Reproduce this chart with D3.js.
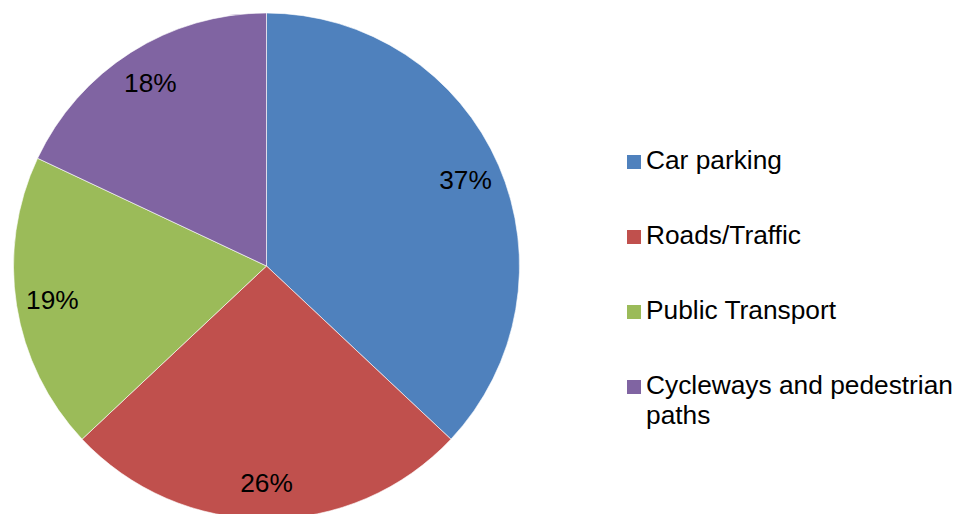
<!DOCTYPE html>
<html>
<head>
<meta charset="utf-8">
<script src="https://cdn.jsdelivr.net/npm/d3@7/dist/d3.min.js"></script>
<style>
  html, body { margin: 0; padding: 0; background: #fff; }
  text { font-family: "Liberation Sans", Arial, sans-serif; fill: #000; }
</style>
</head>
<body>
<svg></svg>
<script>
const categories = ["Car parking", "Roads/Traffic", "Public Transport", "Cycleways and pedestrian paths"]
const values = [37, 26, 19, 18]
const colors = ["#4F81BD", "#C0504D", "#9BBB59", "#8064A2"]

const width = 960
const height = 514
const cx = 266.5, cy = 266, radius = 253
const font_size = 26.3

let svg = d3.select("svg")
  .attr("width", width)
  .attr("height", height)

let data = categories.map((c, i) => ({ name: c, value: values[i], color: colors[i] }))

let pie = d3.pie().sort(null).value(d => d.value)
let arc = d3.arc().innerRadius(0).outerRadius(radius)
let label_arc = d3.arc().innerRadius(radius * 0.857).outerRadius(radius * 0.857)

let g = svg.append("g").attr("transform", `translate(${cx},${cy})`)
let arcs = pie(data)

g.selectAll("path")
  .data(arcs)
  .join("path")
  .attr("d", arc)
  .style("fill", d => d.data.color)
  .style("stroke", "rgba(255,255,255,0.6)")
  .style("stroke-width", 1)

g.selectAll("text")
  .data(arcs)
  .join("text")
  .attr("transform", d => `translate(${label_arc.centroid(d)})`)
  .attr("text-anchor", "middle")
  .attr("dy", "0.35em")
  .style("font-size", font_size + "px")
  .text(d => d3.format(".0%")(d.data.value / d3.sum(values)))

// legend
let legend = svg.append("g").attr("transform", "translate(627,169)")
let row = d3.scaleLinear([0, 1], [0, 75])

let items = legend.selectAll("g")
  .data(data)
  .join("g")
  .attr("transform", (d, i) => `translate(0,${row(i)})`)

items.append("rect")
  .attr("x", 0)
  .attr("y", -14)
  .attr("width", 14)
  .attr("height", 14)
  .style("fill", d => d.color)

items.append("text")
  .attr("x", 19)
  .attr("y", 0)
  .style("font-size", font_size + "px")
  .selectAll("tspan")
  .data(d => d.name === "Cycleways and pedestrian paths" ? ["Cycleways and pedestrian", "paths"] : [d.name])
  .join("tspan")
  .attr("x", 19)
  .attr("dy", (d, i) => i === 0 ? 0 : 30)
  .text(d => d)
</script>
</body>
</html>
